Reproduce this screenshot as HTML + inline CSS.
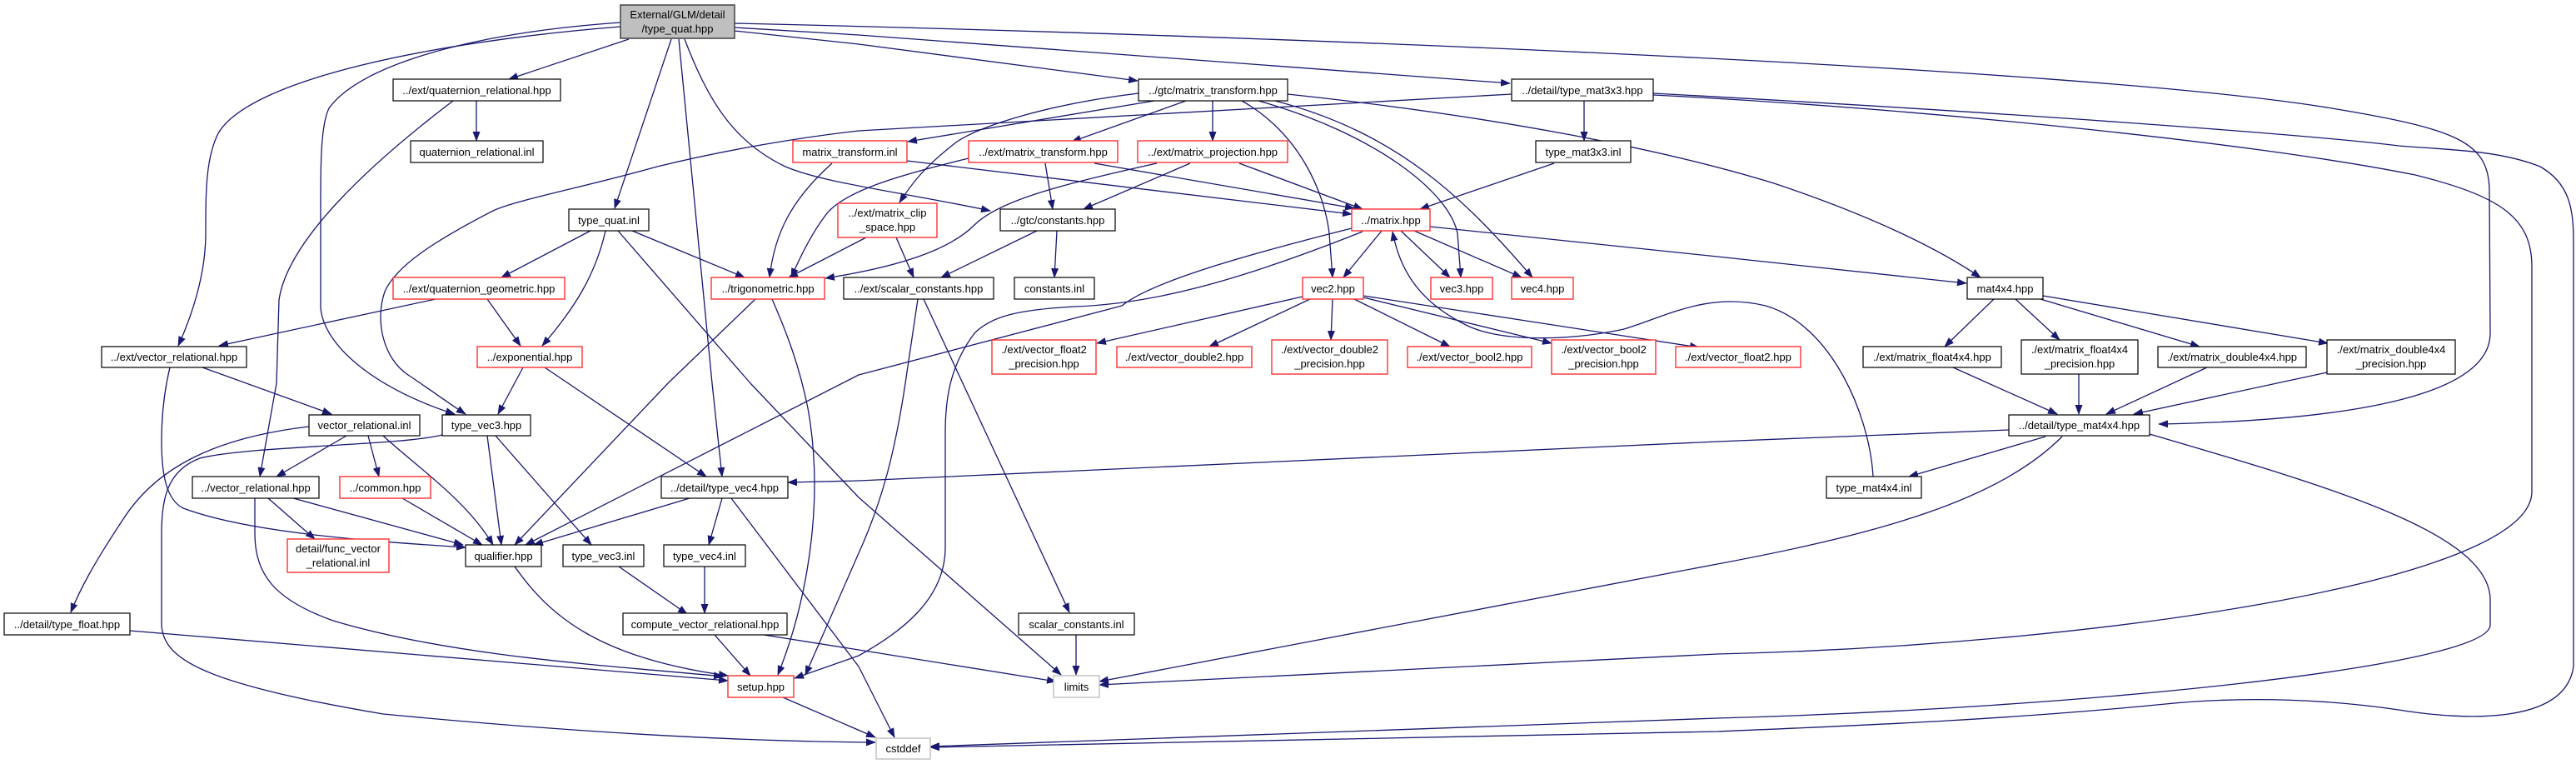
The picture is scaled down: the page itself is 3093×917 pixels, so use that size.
<!DOCTYPE html>
<html><head><meta charset="utf-8"><style>
html,body{margin:0;padding:0;background:#fff;}
svg{display:block;}
text{font-family:"Liberation Sans",sans-serif;font-size:13px;fill:#000;}
.e{fill:none;stroke:#191970;stroke-width:1.3;stroke-linejoin:round;marker-end:url(#a);}
.n{fill:#fff;stroke:#000;stroke-width:1.2;}
.r{fill:#fff;stroke:#ff3030;stroke-width:1.4;}
.g{fill:#fff;stroke:#bfbfbf;stroke-width:1.4;}
</style></head><body>
<svg width="3093" height="917" viewBox="0 0 3093 917" xmlns="http://www.w3.org/2000/svg">
<defs><marker id="a" markerUnits="userSpaceOnUse" markerWidth="12" markerHeight="9" refX="11" refY="4.5" orient="auto"><path d="M0,0 L12,4.5 L0,9 z" fill="#191970"/></marker></defs>

<g>
<path class="e" d="M755,47 L611,95"/>
<path class="e" d="M745,32 C520,50 300,95 262,160 C247,190 247,230 247,280 C247,330 230,380 214,415"/>
<path class="e" d="M745,27 C560,40 430,80 395,130 C385,150 385,200 385,240 L385,370 C390,420 460,470 546,497"/>
<path class="e" d="M806,47 L738,250"/>
<path class="e" d="M815,47 L855,460 L867,572"/>
<path class="e" d="M822,47 C850,120 880,170 943,200 C990,220 1080,230 1189,253"/>
<path class="e" d="M882,28 C1500,42 2500,80 2800,130 C2950,155 2989,170 2989,230 L2990,400 C2990,480 2800,505 2592,509"/>
<path class="e" d="M882,33 L1031,42 L1813,100"/>
<path class="e" d="M882,37 L1031,53 L1366,97"/>
<path class="e" d="M1902,121 L1902,169"/>
<path class="e" d="M1815,113 L1031,157 C960,165 870,180 789,200 C700,225 620,240 592,253 C520,290 475,320 462,350 C450,385 460,430 490,450 C520,470 540,485 559,497"/>
<path class="e" d="M1985,114 C2300,130 2700,170 2900,210 C3000,235 3040,260 3040,320 L3040,590 C3040,700 2500,775 2062,785 L1320,822"/>
<path class="e" d="M1985,112 C2500,140 2800,165 2880,175 C2940,180 3000,180 3050,200 C3085,220 3090,250 3090,290 L3090,800 C3080,870 2960,865 2880,852 C2800,840 2700,835 2600,845 C2400,865 2200,872 2062,878 L1117,897"/>
<path class="e" d="M1386,121 L1090,170"/>
<path class="e" d="M1367,112 C1260,125 1180,150 1149,170 C1110,200 1095,220 1080,243"/>
<path class="e" d="M1424,121 L1287,170"/>
<path class="e" d="M1456,121 L1456,169"/>
<path class="e" d="M1491,121 C1560,160 1590,230 1596,280 L1600,333"/>
<path class="e" d="M1511,121 C1650,160 1740,230 1750,280 L1754,333"/>
<path class="e" d="M1531,121 C1680,160 1760,240 1840,333"/>
<path class="e" d="M1546,113 C1800,140 2000,180 2130,220 C2250,260 2330,300 2378,333"/>
<path class="e" d="M999,196 C950,240 930,280 924,333"/>
<path class="e" d="M1089,193 L1623,257"/>
<path class="e" d="M1255,196 L1264,251"/>
<path class="e" d="M1314,196 L1626,250"/>
<path class="e" d="M1163,190 C1080,210 1010,230 990,260 C975,280 960,310 950,333"/>
<path class="e" d="M1429,196 L1301,251"/>
<path class="e" d="M1488,196 L1636,251"/>
<path class="e" d="M1389,196 C1280,220 1200,240 1170,270 C1140,300 1080,320 991,334"/>
<path class="e" d="M1866,196 L1705,251"/>
<path class="e" d="M1040,285 L947,333"/>
<path class="e" d="M1076,285 L1097,333"/>
<path class="e" d="M1245,277 L1130,333"/>
<path class="e" d="M1269,277 L1266,333"/>
<path class="e" d="M1659,277 L1613,333"/>
<path class="e" d="M1682,277 L1741,333"/>
<path class="e" d="M1698,277 L1827,333"/>
<path class="e" d="M1717,272 L2062,308 L2361,340"/>
<path class="e" d="M1623,274 C1480,310 1380,340 1347,367 L1031,450 L631,654"/>
<path class="e" d="M1636,278 C1480,340 1380,365 1290,368 C1220,372 1190,380 1170,400 C1140,440 1135,480 1135,520 L1135,657 C1135,720 1080,760 1031,787 L954,814"/>
<path class="e" d="M2249,572 C2245,500 2200,390 2120,367 C2050,350 2000,380 1950,395 C1880,410 1800,410 1760,390 C1700,360 1680,320 1672,278"/>
<path class="e" d="M1564,356 L1317,412"/>
<path class="e" d="M1573,359 L1452,416"/>
<path class="e" d="M1600,359 L1598,408"/>
<path class="e" d="M1626,359 L1741,416"/>
<path class="e" d="M1637,357 L1863,412"/>
<path class="e" d="M1637,355 L2040,417"/>
<path class="e" d="M2394,359 L2335,416"/>
<path class="e" d="M2420,359 L2473,408"/>
<path class="e" d="M2450,359 L2641,416"/>
<path class="e" d="M2453,355 L2795,412"/>
<path class="e" d="M2345,441 L2470,497"/>
<path class="e" d="M2496,449 L2496,497"/>
<path class="e" d="M2650,441 L2529,497"/>
<path class="e" d="M2794,447 L2562,497"/>
<path class="e" d="M2456,524 L2292,572"/>
<path class="e" d="M2412,516 L2062,530 L1031,577 L946,579"/>
<path class="e" d="M2581,521 C2800,585 2990,640 2990,720 L2990,750 C2990,800 2500,850 2062,862 L1117,896"/>
<path class="e" d="M2476,524 C2400,600 2260,640 2062,677 L1320,818"/>
<path class="e" d="M572,121 L572,169"/>
<path class="e" d="M544,121 C440,200 345,290 335,360 L332,460 L312,572"/>
<path class="e" d="M709,277 L602,333"/>
<path class="e" d="M727,277 C715,330 690,370 651,415"/>
<path class="e" d="M759,277 L894,333"/>
<path class="e" d="M742,277 L901,460 L1031,597 L1274,810"/>
<path class="e" d="M523,359 L263,415"/>
<path class="e" d="M585,359 L625,415"/>
<path class="e" d="M907,359 L802,460 L618,654"/>
<path class="e" d="M927,359 C945,400 960,440 970,490 C990,600 970,720 934,810"/>
<path class="e" d="M1102,359 L1087,460 C1075,540 1060,600 1031,664 L967,810"/>
<path class="e" d="M1109,359 L1284,735"/>
<path class="e" d="M243,441 L398,497"/>
<path class="e" d="M204,441 C197,470 194,500 194,530 C194,570 200,600 220,610 C300,640 450,650 559,657"/>
<path class="e" d="M628,441 L598,497"/>
<path class="e" d="M654,441 L848,572"/>
<path class="e" d="M416,523 L332,572"/>
<path class="e" d="M442,523 L455,572"/>
<path class="e" d="M460,523 C500,560 560,600 592,654"/>
<path class="e" d="M371,512 C260,525 190,560 150,620 C110,680 95,710 85,735"/>
<path class="e" d="M585,523 L602,654"/>
<path class="e" d="M595,523 L710,654"/>
<path class="e" d="M531,522 C480,535 300,535 240,550 C200,565 194,600 194,640 L194,750 C196,790 240,820 460,857 C700,880 900,890 1051,891"/>
<path class="e" d="M322,598 L378,647"/>
<path class="e" d="M352,598 L556,654"/>
<path class="e" d="M306,598 L306,640 C306,690 330,720 400,745 C550,790 750,800 868,812"/>
<path class="e" d="M483,598 L579,654"/>
<path class="e" d="M828,598 L641,654"/>
<path class="e" d="M867,598 L851,654"/>
<path class="e" d="M878,598 L1031,800 L1074,885"/>
<path class="e" d="M743,680 L825,737"/>
<path class="e" d="M846,680 L846,736"/>
<path class="e" d="M858,762 L901,811"/>
<path class="e" d="M917,762 L1031,780 L1268,818"/>
<path class="e" d="M618,680 C660,740 720,790 874,811"/>
<path class="e" d="M156,757 L874,817"/>
<path class="e" d="M940,837 L1051,885"/>
<path class="e" d="M1292,762 L1292,810"/>
</g>

<g>
<rect x="745" y="6" width="137" height="40" fill="#bfbfbf" stroke="#404040" stroke-width="1.5"/>
<text x="813.5" y="22" text-anchor="middle">External/GLM/detail</text>
<text x="813.5" y="39" text-anchor="middle">/type_quat.hpp</text>
</g>
<g>
<rect class="n" x="472" y="95" width="201" height="26"/><text x="572.5" y="113" text-anchor="middle">../ext/quaternion_relational.hpp</text>
<rect class="n" x="1367" y="95" width="179" height="26"/><text x="1456.5" y="113" text-anchor="middle">../gtc/matrix_transform.hpp</text>
<rect class="n" x="1815" y="95" width="170" height="26"/><text x="1900" y="113" text-anchor="middle">../detail/type_mat3x3.hpp</text>
<rect class="n" x="493" y="169" width="159" height="26"/><text x="572.5" y="187" text-anchor="middle">quaternion_relational.inl</text>
<rect class="n" x="1844" y="169" width="114" height="26"/><text x="1901" y="187" text-anchor="middle">type_mat3x3.inl</text>
<rect class="n" x="683" y="251" width="96" height="26"/><text x="731" y="269" text-anchor="middle">type_quat.inl</text>
<rect class="n" x="1201" y="251" width="138" height="26"/><text x="1270" y="269" text-anchor="middle">../gtc/constants.hpp</text>
<rect class="n" x="1013" y="333" width="180" height="26"/><text x="1103" y="351" text-anchor="middle">../ext/scalar_constants.hpp</text>
<rect class="n" x="1218" y="333" width="96" height="26"/><text x="1266" y="351" text-anchor="middle">constants.inl</text>
<rect class="n" x="2362" y="333" width="91" height="26"/><text x="2407.5" y="351" text-anchor="middle">mat4x4.hpp</text>
<rect class="n" x="122" y="416" width="174" height="25"/><text x="209" y="433" text-anchor="middle">../ext/vector_relational.hpp</text>
<rect class="n" x="2237" y="416" width="166" height="25"/><text x="2320" y="433" text-anchor="middle">./ext/matrix_float4x4.hpp</text>
<rect class="n" x="2427" y="408" width="140" height="41"/><text x="2497" y="424" text-anchor="middle">./ext/matrix_float4x4</text><text x="2497" y="441" text-anchor="middle">_precision.hpp</text>
<rect class="n" x="2591" y="416" width="178" height="25"/><text x="2680" y="433" text-anchor="middle">./ext/matrix_double4x4.hpp</text>
<rect class="n" x="2794" y="408" width="154" height="41"/><text x="2871" y="424" text-anchor="middle">./ext/matrix_double4x4</text><text x="2871" y="441" text-anchor="middle">_precision.hpp</text>
<rect class="n" x="371" y="498" width="133" height="25"/><text x="437.5" y="515" text-anchor="middle">vector_relational.inl</text>
<rect class="n" x="531" y="498" width="106" height="25"/><text x="584" y="515" text-anchor="middle">type_vec3.hpp</text>
<rect class="n" x="2412" y="498" width="169" height="25"/><text x="2496.5" y="515" text-anchor="middle">../detail/type_mat4x4.hpp</text>
<rect class="n" x="231" y="572" width="152" height="26"/><text x="307" y="590" text-anchor="middle">../vector_relational.hpp</text>
<rect class="n" x="794" y="572" width="152" height="26"/><text x="870" y="590" text-anchor="middle">../detail/type_vec4.hpp</text>
<rect class="n" x="2193" y="572" width="114" height="26"/><text x="2250" y="590" text-anchor="middle">type_mat4x4.inl</text>
<rect class="n" x="559" y="654" width="91" height="26"/><text x="604.5" y="672" text-anchor="middle">qualifier.hpp</text>
<rect class="n" x="676" y="654" width="97" height="26"/><text x="724.5" y="672" text-anchor="middle">type_vec3.inl</text>
<rect class="n" x="797" y="654" width="98" height="26"/><text x="846" y="672" text-anchor="middle">type_vec4.inl</text>
<rect class="n" x="5" y="736" width="151" height="26"/><text x="80.5" y="754" text-anchor="middle">../detail/type_float.hpp</text>
<rect class="n" x="748" y="736" width="197" height="26"/><text x="846.5" y="754" text-anchor="middle">compute_vector_relational.hpp</text>
<rect class="n" x="1223" y="736" width="139" height="26"/><text x="1292.5" y="754" text-anchor="middle">scalar_constants.inl</text>

<rect class="r" x="952" y="169" width="137" height="26"/><text x="1020.5" y="187" text-anchor="middle">matrix_transform.inl</text>
<rect class="r" x="1163" y="169" width="179" height="26"/><text x="1252.5" y="187" text-anchor="middle">../ext/matrix_transform.hpp</text>
<rect class="r" x="1366" y="169" width="180" height="26"/><text x="1456" y="187" text-anchor="middle">../ext/matrix_projection.hpp</text>
<rect class="r" x="1006" y="244" width="119" height="41"/><text x="1065.5" y="260" text-anchor="middle">../ext/matrix_clip</text><text x="1065.5" y="277" text-anchor="middle">_space.hpp</text>
<rect class="r" x="1623" y="251" width="94" height="26"/><text x="1670" y="269" text-anchor="middle">../matrix.hpp</text>
<rect class="r" x="472" y="333" width="206" height="26"/><text x="575" y="351" text-anchor="middle">../ext/quaternion_geometric.hpp</text>
<rect class="r" x="854" y="333" width="136" height="26"/><text x="922" y="351" text-anchor="middle">../trigonometric.hpp</text>
<rect class="r" x="1564" y="333" width="73" height="26"/><text x="1600.5" y="351" text-anchor="middle">vec2.hpp</text>
<rect class="r" x="1718" y="333" width="74" height="26"/><text x="1755" y="351" text-anchor="middle">vec3.hpp</text>
<rect class="r" x="1815" y="333" width="74" height="26"/><text x="1852" y="351" text-anchor="middle">vec4.hpp</text>
<rect class="r" x="573" y="416" width="126" height="25"/><text x="636" y="433" text-anchor="middle">../exponential.hpp</text>
<rect class="r" x="1191" y="408" width="125" height="41"/><text x="1253.5" y="424" text-anchor="middle">./ext/vector_float2</text><text x="1253.5" y="441" text-anchor="middle">_precision.hpp</text>
<rect class="r" x="1341" y="416" width="162" height="25"/><text x="1422" y="433" text-anchor="middle">./ext/vector_double2.hpp</text>
<rect class="r" x="1527" y="408" width="139" height="41"/><text x="1596.5" y="424" text-anchor="middle">./ext/vector_double2</text><text x="1596.5" y="441" text-anchor="middle">_precision.hpp</text>
<rect class="r" x="1690" y="416" width="149" height="25"/><text x="1764.5" y="433" text-anchor="middle">./ext/vector_bool2.hpp</text>
<rect class="r" x="1863" y="408" width="125" height="41"/><text x="1925.5" y="424" text-anchor="middle">./ext/vector_bool2</text><text x="1925.5" y="441" text-anchor="middle">_precision.hpp</text>
<rect class="r" x="2012" y="416" width="150" height="25"/><text x="2087" y="433" text-anchor="middle">./ext/vector_float2.hpp</text>
<rect class="r" x="408" y="572" width="109" height="26"/><text x="462.5" y="590" text-anchor="middle">../common.hpp</text>
<rect class="r" x="345" y="647" width="122" height="40"/><text x="406" y="663" text-anchor="middle">detail/func_vector</text><text x="406" y="680" text-anchor="middle">_relational.inl</text>
<rect class="r" x="874" y="811" width="79" height="26"/><text x="913.5" y="829" text-anchor="middle">setup.hpp</text>

<rect class="g" x="1265" y="811" width="55" height="26"/><text x="1292.5" y="829" text-anchor="middle">limits</text>
<rect class="g" x="1052" y="886" width="65" height="25"/><text x="1084.5" y="903" text-anchor="middle">cstddef</text>
</g>
</svg>
</body></html>
